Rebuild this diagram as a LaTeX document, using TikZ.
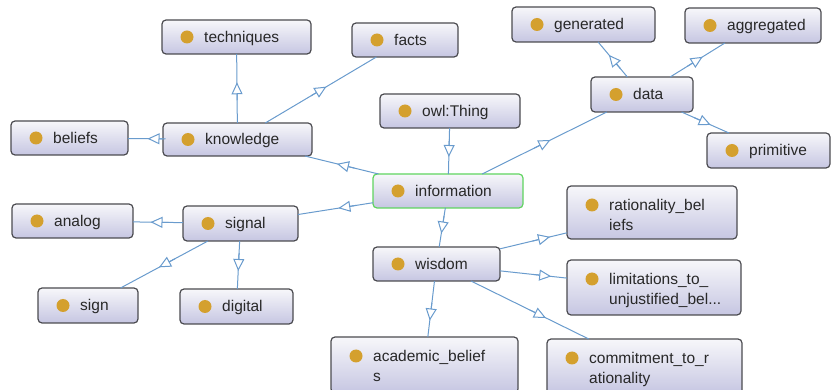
\documentclass[tikz,border=0pt]{standalone}
\usepackage{fontspec}
\setmainfont{Liberation Sans}
\usetikzlibrary{calc,arrows.meta}
\definecolor{edgeblue}{RGB}{105,155,205}
\definecolor{boxborder}{RGB}{75,75,80}
\definecolor{dotgold}{RGB}{212,160,46}
\definecolor{boxtop}{RGB}{247,247,250}
\definecolor{boxbot}{RGB}{198,198,226}
\definecolor{txt}{RGB}{40,40,40}
\definecolor{selgreen}{RGB}{95,212,95}
\tikzset{
  clsbox/.style={draw=boxborder, line width=1.2pt, rounded corners=4pt, top color=boxtop, bottom color=boxbot, inner sep=0pt, outer sep=0pt, rectangle},
  clsdot/.style={circle, fill=dotgold, draw=none, minimum size=13pt, inner sep=0pt},
  clstext/.style={inner sep=0pt, text=txt, font=\fontsize{15.5}{20}\selectfont, anchor=base west},
  edgeln/.style={draw=edgeblue, line width=1pt},
  hollowtip/.style={-{Triangle[length=12pt,width=11pt,fill=white]}}
}
\newcommand{\ontoclass}[7][clsbox]{%
  \node[#1, minimum width={(#5-#3)*1pt}, minimum height={(#6-#4)*1pt}] (#2) at ({(#3+#5)/2},{(#4+#6)/2}) {};
  \node[clsdot] (#2-dot) at ({#3+25},{(#4+#6)/2}) {};
  \node[clstext] (#2-txt) at ({#3+42},{(#4+#6)/2+5.5}) {#7};
}
\newcommand{\ontoclasstwo}[8]{%
  \node[clsbox, minimum width={(#4-#2)*1pt}, minimum height={(#5-#3)*1pt}] (#1) at ({(#2+#4)/2},{(#3+#5)/2}) {};
  \node[clsdot] (#1-dot) at ({#2+25},{#3+19}) {};
  \node[clstext] (#1-txta) at ({#2+42},{#3+24.5}) {#6};
  \node[clstext] (#1-txtb) at ({#2+42},{#3+44.5}) {#7};
}
\newcommand{\subedge}[2]{%
  \draw[edgeln] (#1) -- (#2);
  \coordinate (m-#1-#2) at ($(#1.center)!0.5!(#2.center)$);
  \draw[edgeln, hollowtip] ($(m-#1-#2)!-12pt!(#2.center)$) -- ($(m-#1-#2)!6pt!(#2.center)$);
}
\begin{document}
\begin{tikzpicture}[x=1pt, y=-1pt]
\useasboundingbox (0,0) rectangle (831,390);
\clip (0,0) rectangle (831,390);
\ontoclass{techniques}{162}{20}{311}{54}{techniques}
\ontoclass{facts}{352}{23}{458}{57}{facts}
\ontoclass{generated}{512}{7}{655}{42}{generated}
\ontoclass{aggregated}{685}{8}{821}{43}{aggregated}
\ontoclass{data}{591}{77}{693}{112}{data}
\ontoclass{owlthing}{380}{94}{520}{128}{owl:Thing}
\ontoclass{beliefs}{11}{121}{128}{155}{beliefs}
\ontoclass{knowledge}{163}{123}{312}{156}{knowledge}
\ontoclass{primitive}{707}{133}{830}{168}{primitive}
\ontoclass[clsbox,draw=selgreen]{information}{373}{174}{523}{208}{information}
\ontoclass{analog}{12}{204}{133}{238}{analog}
\ontoclass{signal}{183}{206}{298}{241}{signal}
\ontoclasstwo{rationality}{567}{186}{737}{239}{rationality\_bel}{iefs}{}
\ontoclass{wisdom}{373}{247}{500}{281}{wisdom}
\ontoclasstwo{limitations}{567}{260}{741}{315}{limitations\_to\_}{unjustified\_bel...}{}
\ontoclass{sign}{38}{288}{138}{323}{sign}
\ontoclass{digital}{180}{289}{293}{324}{digital}
\ontoclasstwo{academic}{331}{337}{518}{393}{academic\_belief}{s}{}
\ontoclasstwo{commitment}{547}{339}{742}{394}{commitment\_to\_r}{ationality}{}
\subedge{owlthing}{information}
\subedge{information}{knowledge}
\subedge{information}{data}
\subedge{information}{signal}
\subedge{information}{wisdom}
\subedge{knowledge}{techniques}
\subedge{knowledge}{facts}
\subedge{knowledge}{beliefs}
\subedge{data}{generated}
\subedge{data}{aggregated}
\subedge{data}{primitive}
\subedge{signal}{analog}
\subedge{signal}{sign}
\subedge{signal}{digital}
\subedge{wisdom}{rationality}
\subedge{wisdom}{limitations}
\subedge{wisdom}{academic}
\subedge{wisdom}{commitment}
\end{tikzpicture}
\end{document}
